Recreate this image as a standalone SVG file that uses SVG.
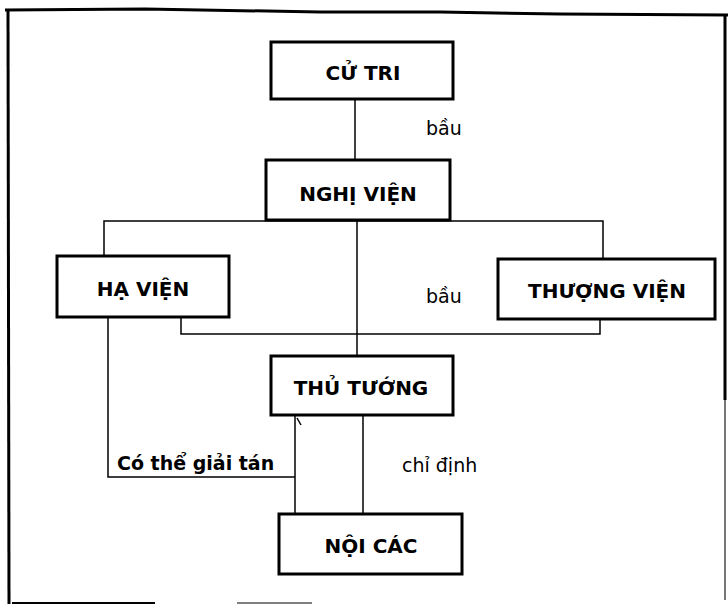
<svg xmlns="http://www.w3.org/2000/svg" width="728" height="605" viewBox="0 0 728 605">
<style>
.box{fill:#fff;stroke:#000;stroke-width:3}
.lbl{font-family:"DejaVu Sans",sans-serif;font-weight:bold;font-size:20px;text-anchor:middle;fill:#000}
.edge{fill:none;stroke:#000;stroke-width:1.5}
.t{font-family:"DejaVu Sans",sans-serif;font-size:19px;fill:#000}
.tb{font-family:"DejaVu Sans",sans-serif;font-size:19px;font-weight:bold;fill:#000}
.frame{fill:none;stroke:#000;stroke-width:3}
</style>
<rect width="728" height="605" fill="#fff"/>
<g id="frame">
<polyline class="frame" points="5,10 145,9 320,12 440,12 560,14 728,15"/>
<line class="frame" x1="8" y1="10" x2="9" y2="604"/>
<line class="frame" x1="725" y1="15" x2="725" y2="400"/>
<line x1="725" y1="400" x2="725" y2="600" stroke="#777" stroke-width="2"/>
<line x1="12" y1="603" x2="155" y2="603" stroke="#000" stroke-width="2"/>
<line x1="237" y1="603" x2="312" y2="603" stroke="#555" stroke-width="1.5"/>
</g>
<g id="connectors">
<line class="edge" x1="355" y1="99" x2="355" y2="160"/>
<polyline class="edge" points="104,256 104,221 603,221 603,259"/>
<line class="edge" x1="357" y1="221" x2="357" y2="356"/>
<polyline class="edge" points="181,317 181,334 600,334 600,319"/>
<polyline class="edge" points="108,317 108,477 295,477"/>
<line class="edge" x1="295" y1="415" x2="295" y2="514"/>
<line class="edge" x1="297" y1="418" x2="301" y2="425"/>
<line class="edge" x1="363" y1="415" x2="363" y2="514"/>
<text class="t" x="426" y="135">bầu</text>
<text class="t" x="426" y="303">bầu</text>
<text class="tb" x="117" y="470">Có thể giải tán</text>
<text class="t" x="402" y="472">chỉ định</text>
</g>
<g id="cu-tri">
<rect class="box" x="271" y="42" width="182" height="57"/>
<text class="lbl" x="363" y="80">CỬ TRI</text>
</g>
<g id="nghi-vien">
<rect class="box" x="266" y="160" width="184" height="60"/>
<text class="lbl" x="358" y="201">NGHỊ VIỆN</text>
</g>
<g id="ha-vien">
<rect class="box" x="57" y="256" width="172" height="61"/>
<text class="lbl" x="143" y="296">HẠ VIỆN</text>
</g>
<g id="thuong-vien">
<rect class="box" x="498" y="259" width="217" height="60"/>
<text class="lbl" x="607" y="298">THƯỢNG VIỆN</text>
</g>
<g id="thu-tuong">
<rect class="box" x="271" y="356" width="182" height="59"/>
<text class="lbl" x="361" y="395">THỦ TƯỚNG</text>
</g>
<g id="noi-cac">
<rect class="box" x="279" y="514" width="183" height="60"/>
<text class="lbl" x="371" y="553">NỘI CÁC</text>
</g>
</svg>
